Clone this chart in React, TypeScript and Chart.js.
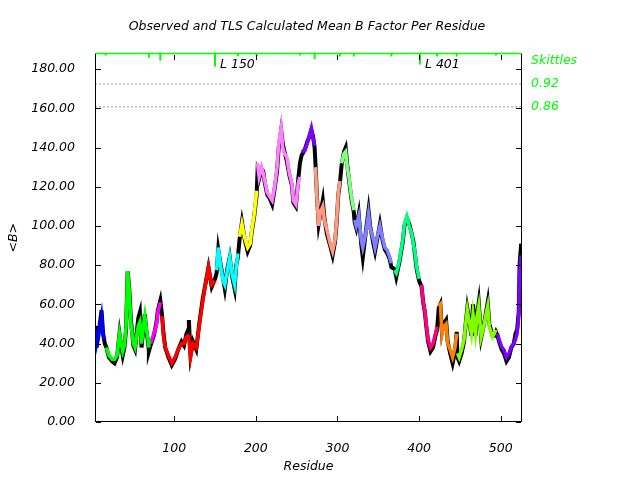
import React, { useEffect, useRef } from "react";
import { Chart, registerables } from "chart.js";

Chart.register(...registerables);

const FONT_FAMILY = "'DejaVu Sans', sans-serif";
const FONT = `italic 12.5px ${FONT_FAMILY}`;

const titleText = "Observed and TLS Calculated Mean B Factor Per Residue";
const xTitle = "Residue";
const yTitle = "<B>";

const residues = [
  3, 4, 5, 8, 11, 13, 15,
  17, 20, 24, 27, 30, 33, 35, 37, 39, 41, 43, 45, 47, 50, 52, 54, 56, 58, 60, 62, 64, 66, 68, 69,
  71, 75, 78, 80, 83,
  85, 87, 89, 93, 97, 101, 105, 109, 112, 115, 117, 118, 120, 123, 127, 131, 135, 139, 142, 146, 150,
  152, 154, 157, 160, 162, 165, 168, 171, 174, 176, 178,
  180, 183, 186, 190, 193, 195, 198, 201,
  202, 204, 207, 209, 211, 214, 217, 220, 223, 226, 228, 231, 233, 235, 238, 241, 244, 246, 249, 252, 254,
  256, 260, 263, 266, 268, 270, 272,
  273, 275, 277, 279, 282, 284, 287, 291, 294, 297, 299, 301, 303,
  305, 308, 310, 312, 314, 317, 320,
  321, 323, 326, 329, 331, 335, 338, 340, 344, 346, 349, 352, 355, 358, 361, 364, 366,
  370, 372, 374, 376, 380, 382, 385, 388, 391, 393, 395, 397, 400,
  403, 405, 407, 409, 411, 414, 417, 420, 422,
  424, 426, 428, 430, 433, 435, 438, 441, 444, 446,
  447, 449, 452, 455, 457, 459, 461, 464, 466, 469, 471, 473, 476, 479, 482, 484, 486, 490, 492, 494,
  496, 498, 501, 504, 507, 510, 513, 516, 518, 520, 522, 523, 525,
];

const tlsB = [
  47, 44, 40, 46, 54, 44, 42,
  38, 34, 32, 32, 34, 45, 40, 36, 39, 48, 77, 67, 50, 40, 38, 44, 49, 51, 40, 48, 54, 47, 42, 38,
  40, 45, 49, 56, 61,
  54, 44, 38, 34, 30, 33, 37, 40, 40, 43.5, 44, 42, 33, 40, 38, 50, 62, 72, 79, 70, 72,
  77.5, 89, 79, 72, 70, 77, 84, 75, 70, 79, 86,
  94.5, 101, 94.5, 89, 91, 98, 106, 118,
  132, 125, 130, 127, 123, 117, 115, 113, 120, 130, 142, 150, 140, 137, 135, 127, 122, 113, 111, 122, 125,
  138, 138.5, 142, 147, 150, 145, 141,
  130, 113, 100, 107, 110, 103, 98, 91, 87, 93, 103, 117, 123,
  132, 137, 138, 130, 125, 115, 108,
  103, 100, 105, 93, 89, 97, 106, 99, 93, 89, 95, 100, 94, 89, 87.5, 84, 81,
  77.5, 76, 79, 83, 93, 101, 105, 100, 96, 91, 86, 79, 73,
  70, 60.5, 57, 48.6, 42, 38, 40, 45, 48.6,
  59, 60, 45, 48.6, 50, 40, 37, 33, 38, 45,
  35, 33, 37, 42, 50, 57, 52, 45, 55, 45, 54, 59, 43.5, 48.6, 55, 59, 48.6, 43.5, 45, 47,
  45, 42, 38.4, 36.7, 33, 35, 38.4, 40, 42, 45, 54, 76, 85,
];

const obsB = [
  49, 46, 38, 47, 57, 45, 40,
  38, 33, 31, 30, 33, 45, 39, 34, 38, 47, 77, 68, 52, 39, 37, 45, 53, 56, 38, 47, 55, 46, 41, 36,
  39, 44, 50, 57, 62,
  55, 45, 38, 33, 29, 32, 37, 41, 39, 45, 47, 52, 34, 41, 37, 51, 63, 72, 79, 69, 73,
  76, 88, 80, 73, 68, 78, 84, 74, 68, 80, 84,
  93, 102, 94, 87, 90, 97, 105, 116,
  127, 124, 129, 128, 122, 116, 114, 111, 119, 128, 140, 149, 142, 138, 133, 126, 121, 112, 110, 124, 132,
  136, 139, 143, 146, 149, 146, 140,
  132, 114, 101, 106, 113, 104, 96, 90, 85, 92, 102, 116, 122,
  131, 138, 140, 131, 124, 114, 107,
  102, 99, 106, 91, 84, 98, 108, 100, 91, 87, 94, 101, 93, 88, 86, 83, 79,
  78, 74, 78, 82, 92, 100, 104, 101, 96, 92, 85, 78, 72,
  69, 61, 56, 48, 41, 36, 38, 44, 47,
  58, 60, 46, 50, 52, 41, 35, 30, 36, 46,
  33, 31, 35, 41, 50, 58, 53, 44, 60, 44, 55, 61, 43, 49, 56, 61, 50, 44, 44, 46,
  44, 41, 37, 35, 31, 33, 38, 40, 45, 47, 56, 80, 91,
];

const groupStart = [3, 17, 70, 84, 151, 179, 202, 255, 273, 304, 321, 367, 402, 423, 447, 495];
const groupEnd = [16, 69, 83, 150, 178, 201, 254, 272, 303, 320, 366, 401, 422, 446, 494, 525];
const groupColors = [
  "#0000ff", "#00ff00", "#ff00ff", "#ff0000", "#00ffff", "#ffff00", "#ff80ff", "#8000ff",
  "#ff9980", "#80ff80", "#8080ff", "#00ff80", "#ff0080", "#ff8000", "#80ff00", "#8000ff",
];

const skittleResidues = [16, 69, 83, 150, 178, 201, 254, 272, 303, 320, 366, 401, 422, 446, 494];
const skittleValues = [0.995, 0.989, 0.981, 0.966, 0.993, 0.992, 0.995, 0.985, 0.992, 0.992, 0.992, 0.971, 0.992, 0.992, 0.995];
const labelledResidues = [150, 401];
const labelledTexts = ["L 150", "L 401"];
const thresholdLevels = [0.92, 0.86];
const thresholdTexts = ["0.92", "0.86"];
const skittleTitle = "Skittles";

const yTicks = [0, 20, 40, 60, 80, 100, 120, 140, 160, 180];
const xTicks = [100, 200, 300, 400, 500];

const X_MIN = 3;
const X_MAX = 526;
const Y_MAX = 188;
const SK_MIN = 0.0325;
const SK_MAX = 1.0;

const GREEN = "#00ff00";

const framePlugin = {
  id: "frameTicks",
  afterDraw(chart: any) {
    const { ctx, scales } = chart;
    const xs = scales.x;
    const ys = scales.y;
    const L = Math.round(xs.left);
    const R = Math.round(xs.right) - 1;
    const T = Math.round(ys.top);
    const B = Math.round(ys.bottom) - 1;

    ctx.save();
    ctx.setLineDash([]);
    ctx.globalAlpha = 1;
    ctx.globalCompositeOperation = "source-over";
    ctx.fillStyle = "#000000";
    ctx.fillRect(L, B, R - L + 1, 1);
    ctx.fillRect(L, T, 1, B - T + 1);
    ctx.fillRect(R, T, 1, B - T + 1);
    const tl = 5;
    for (const v of xTicks) {
      const px = Math.round(xs.getPixelForValue(v));
      ctx.fillRect(px, B - tl, 1, tl);
      ctx.fillRect(px, T + 1, 1, tl);
    }
    for (const v of yTicks) {
      const py = Math.round(ys.getPixelForValue(v));
      ctx.fillRect(L + 1, py, tl, 1);
      ctx.fillRect(R - tl, py, tl, 1);
    }

    ctx.font = FONT;
    ctx.textBaseline = "middle";
    ctx.fillStyle = "#000";
    ctx.textAlign = "center";
    ctx.fillText(titleText, (L + R) / 2 - 1, 27);

    ctx.textAlign = "left";
    labelledResidues.forEach((r, i) => {
      ctx.fillText(labelledTexts[i], xs.getPixelForValue(r) + 5, scales.y2.getPixelForValue(0.97));
    });

    ctx.fillStyle = GREEN;
    const rx = R + 10;
    ctx.fillText(skittleTitle, rx, scales.y2.getPixelForValue(0.98));
    thresholdLevels.forEach((lv, i) => {
      ctx.fillText(thresholdTexts[i], rx, scales.y2.getPixelForValue(lv));
    });
    ctx.restore();
  },
};

export default function App() {
  const canvasRef = useRef<HTMLCanvasElement | null>(null);

  useEffect(() => {
    const canvas = canvasRef.current;
    if (!canvas) return;

    const tlsSets = groupStart.map((s, gi) => {
      const pts: { x: number; y: number }[] = [];
      residues.forEach((r, i) => {
        if (r >= s && r <= groupEnd[gi]) pts.push({ x: r, y: tlsB[i] });
      });
      return {
        label: `TLS ${gi + 1}`,
        data: pts,
        borderColor: groupColors[gi],
        backgroundColor: groupColors[gi],
        borderWidth: 3.5,
        pointRadius: 0,
        tension: 0,
        fill: false,
        order: 1,
        yAxisID: "y",
      };
    });

    const obsSet = {
      label: "Observed",
      data: residues.map((r, i) => ({ x: r, y: obsB[i] })),
      borderColor: "#000",
      backgroundColor: "#000",
      borderWidth: 4,
      pointRadius: 0,
      tension: 0,
      fill: false,
      order: 5,
      yAxisID: "y",
    };

    const thresholdSets = thresholdLevels.map((lv) => ({
      label: `thr ${lv}`,
      data: [
        { x: X_MIN, y: lv },
        { x: X_MAX, y: lv },
      ],
      borderColor: "#999999",
      borderWidth: 1,
      borderDash: [2, 2],
      pointRadius: 0,
      fill: false,
      order: 6,
      yAxisID: "y2",
    }));

    const skPts: { x: number; y: number | null }[] = [];
    skittleResidues.forEach((r, i) => {
      skPts.push({ x: r, y: SK_MAX });
      skPts.push({ x: r, y: skittleValues[i] });
      skPts.push({ x: r, y: null });
    });
    const skittleSet = {
      label: "Skittles",
      data: skPts,
      borderColor: GREEN,
      borderWidth: 2,
      pointRadius: 0,
      spanGaps: false,
      fill: false,
      order: 0,
      yAxisID: "y2",
    };
    const skittleTop = {
      label: "Skittles top",
      data: [
        { x: X_MIN, y: SK_MAX },
        { x: X_MAX, y: SK_MAX },
      ],
      borderColor: GREEN,
      borderWidth: 1.5,
      pointRadius: 0,
      fill: false,
      clip: false,
      order: 0,
      yAxisID: "y2",
    };

    const chart = new Chart(canvas, {
      type: "line",
      data: { datasets: [skittleTop, skittleSet, ...tlsSets, obsSet, ...thresholdSets] as any },
      options: {
        responsive: false,
        animation: false,
        devicePixelRatio: 1,
        layout: { padding: { top: 53.5, right: 118, left: 0, bottom: 0 } },
        plugins: {
          legend: { display: false },
          title: { display: false },
          tooltip: { enabled: false },
        },
        scales: {
          x: {
            type: "linear",
            position: "bottom",
            min: X_MIN,
            max: X_MAX,
            grid: { display: false },
            border: { display: false },
            afterBuildTicks: (scale: any) => {
              scale.ticks = xTicks.map((v) => ({ value: v }));
            },
            afterFit: (scale: any) => {
              scale.height = 58;
            },
            ticks: {
              color: "#000",
              font: { family: FONT_FAMILY, size: 12.5, style: "italic" },
              padding: 11,
              maxRotation: 0,
              autoSkip: false,
              callback: (v: any) => String(v),
            },
            title: {
              display: true,
              text: xTitle,
              color: "#000",
              font: { family: FONT_FAMILY, size: 12.5, style: "italic" },
              padding: { top: 0, bottom: 6 },
            },
          },
          y: {
            type: "linear",
            position: "left",
            min: 0,
            max: Y_MAX,
            grid: { display: false },
            border: { display: false },
            afterBuildTicks: (scale: any) => {
              scale.ticks = yTicks.map((v) => ({ value: v }));
            },
            afterFit: (scale: any) => {
              scale.width = 95;
            },
            ticks: {
              color: "#000",
              font: { family: FONT_FAMILY, size: 12.5, style: "italic" },
              padding: 12,
              autoSkip: false,
              callback: (v: any) => Number(v).toFixed(2),
            },
            title: {
              display: true,
              text: yTitle,
              color: "#000",
              font: { family: FONT_FAMILY, size: 12.5, style: "italic" },
              padding: { top: 6, bottom: 0 },
            },
          },
          y2: {
            type: "linear",
            display: false,
            min: SK_MIN,
            max: SK_MAX,
          },
        },
      },
      plugins: [framePlugin],
    });

    return () => {
      chart.destroy();
    };
  }, []);

  return (
    <div style={{ position: "absolute", left: 0, top: 0, width: 640, height: 480, background: "#fff" }}>
      <canvas ref={canvasRef} width={640} height={480} style={{ width: 640, height: 480 }} />
    </div>
  );
}
